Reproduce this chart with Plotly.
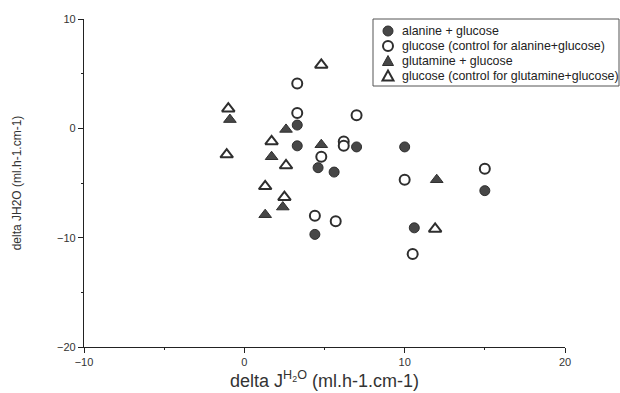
import plotly.graph_objects as go

# alanine + glucose (filled circles)
ala_x = [3.3, 3.3, 7.0, 4.6, 5.6, 4.4, 10.0, 15.0, 10.6]
ala_y = [0.3, -1.6, -1.7, -3.6, -4.0, -9.7, -1.7, -5.7, -9.1]
# glucose control for alanine+glucose (open circles)
gla_x = [3.3, 3.3, 7.0, 6.2, 6.2, 4.8, 4.4, 5.7, 10.0, 15.0, 10.5]
gla_y = [4.1, 1.4, 1.2, -1.2, -1.6, -2.6, -8.0, -8.5, -4.7, -3.7, -11.5]
# glutamine + glucose (filled triangles)
glu_x = [-0.9, 2.6, 4.8, 1.7, 2.4, 1.3, 12.0]
glu_y = [0.8, -0.1, -1.5, -2.6, -7.2, -7.9, -4.7]
# glucose control for glutamine+glucose (open triangles)
ggl_x = [4.8, -1.0, 1.7, -1.1, 2.6, 1.3, 2.5, 11.9]
ggl_y = [5.8, 1.8, -1.2, -2.4, -3.4, -5.3, -6.3, -9.2]

names = ["alanine + glucose",
         "glucose (control for alanine+glucose)",
         "glutamine + glucose",
         "glucose (control for glutamine+glucose)"]
x_ticks = [-10, 0, 10, 20]
y_ticks = [-20, -10, 0, 10]

W, H = 620, 393
ML, MR, MT, MB = 84, 55, 19, 46
PW, PH = W - ML - MR, H - MT - MB
FONT = "Liberation Sans, Arial, sans-serif"
ink = "#2e2e2e"
fill_dark = "#474747"

styles = [
    dict(symbol="circle", size=10, color=fill_dark, line=dict(color=ink, width=1)),
    dict(symbol="circle", size=10, color="white", line=dict(color=ink, width=2)),
    dict(symbol="triangle-up", size=11, color=fill_dark, line=dict(color=ink, width=1)),
    dict(symbol="triangle-up", size=11, color="white", line=dict(color=ink, width=2)),
]
series = [(ala_x, ala_y), (gla_x, gla_y), (glu_x, glu_y), (ggl_x, ggl_y)]

fig = go.Figure()
for (sx, sy), st, nm in zip(series, styles, names):
    fig.add_trace(go.Scatter(x=sx, y=sy, mode="markers", name=nm, marker=st,
                             showlegend=False))

axis_common = dict(showline=True, linecolor="#222", linewidth=1.2, ticks="outside",
                   ticklen=5, tickcolor="#222", showgrid=False, zeroline=False,
                   automargin=False,
                   tickfont=dict(family=FONT, size=11, color="#333"),
                   minor=dict(ticks="outside", ticklen=2, dtick=5, tickcolor="#222"))

fig.update_xaxes(range=[-10, 20], tickvals=x_ticks, **axis_common,
                 title=dict(text="delta J<sup>H<sub>2</sub>O</sup> (ml.h-1.cm-1)",
                            font=dict(family=FONT, size=18, color="#333"),
                            standoff=4))
fig.update_yaxes(range=[-20, 10], tickvals=y_ticks, **axis_common,
                 title=dict(text="delta JH2O (ml.h-1.cm-1)",
                            font=dict(family=FONT, size=12, color="#333"),
                            standoff=32))

# --- legend box drawn as layout decoration (paper coordinates) ---
def px_x(p):
    return (p - ML) / PW

def px_y(p):
    return (H - MB - p) / PH

box_l, box_r, box_t, box_b = 373, 619, 19, 86
row_y = [31, 46, 61, 76]
sym_x, txt_x = 388, 400
shapes = [dict(type="rect", xref="paper", yref="paper",
               x0=px_x(box_l), x1=px_x(box_r), y0=px_y(box_b), y1=px_y(box_t),
               line=dict(color="#555", width=1), fillcolor="white", layer="below")]
annotations = []
r = 5
for i, (nm, st) in enumerate(zip(names, styles)):
    cy = row_y[i]
    filled = st["color"] != "white"
    lw = 1 if filled else 2
    if st["symbol"] == "circle":
        shapes.append(dict(type="circle", xref="paper", yref="paper",
                           x0=px_x(sym_x - r), x1=px_x(sym_x + r),
                           y0=px_y(cy + r), y1=px_y(cy - r),
                           fillcolor=st["color"], line=dict(color=ink, width=lw)))
    else:
        p = (f"M {px_x(sym_x - 5.5)} {px_y(cy + 4.5)} L {px_x(sym_x + 5.5)} {px_y(cy + 4.5)} "
             f"L {px_x(sym_x)} {px_y(cy - 5.5)} Z")
        shapes.append(dict(type="path", xref="paper", yref="paper", path=p,
                           fillcolor=st["color"], line=dict(color=ink, width=lw)))
    annotations.append(dict(text=nm, xref="paper", yref="paper", x=px_x(txt_x), y=px_y(cy),
                            xanchor="left", yanchor="middle", showarrow=False,
                            font=dict(family=FONT, size=12.4, color="#222")))

fig.update_layout(
    width=W, height=H,
    margin=dict(l=ML, r=MR, t=MT, b=MB),
    paper_bgcolor="white", plot_bgcolor="white",
    showlegend=False,
    shapes=shapes, annotations=annotations,
)

fig.write_html("out.html", config={"displayModeBar": False},
               post_script="document.body.style.margin='0';document.body.style.overflow='hidden';")
